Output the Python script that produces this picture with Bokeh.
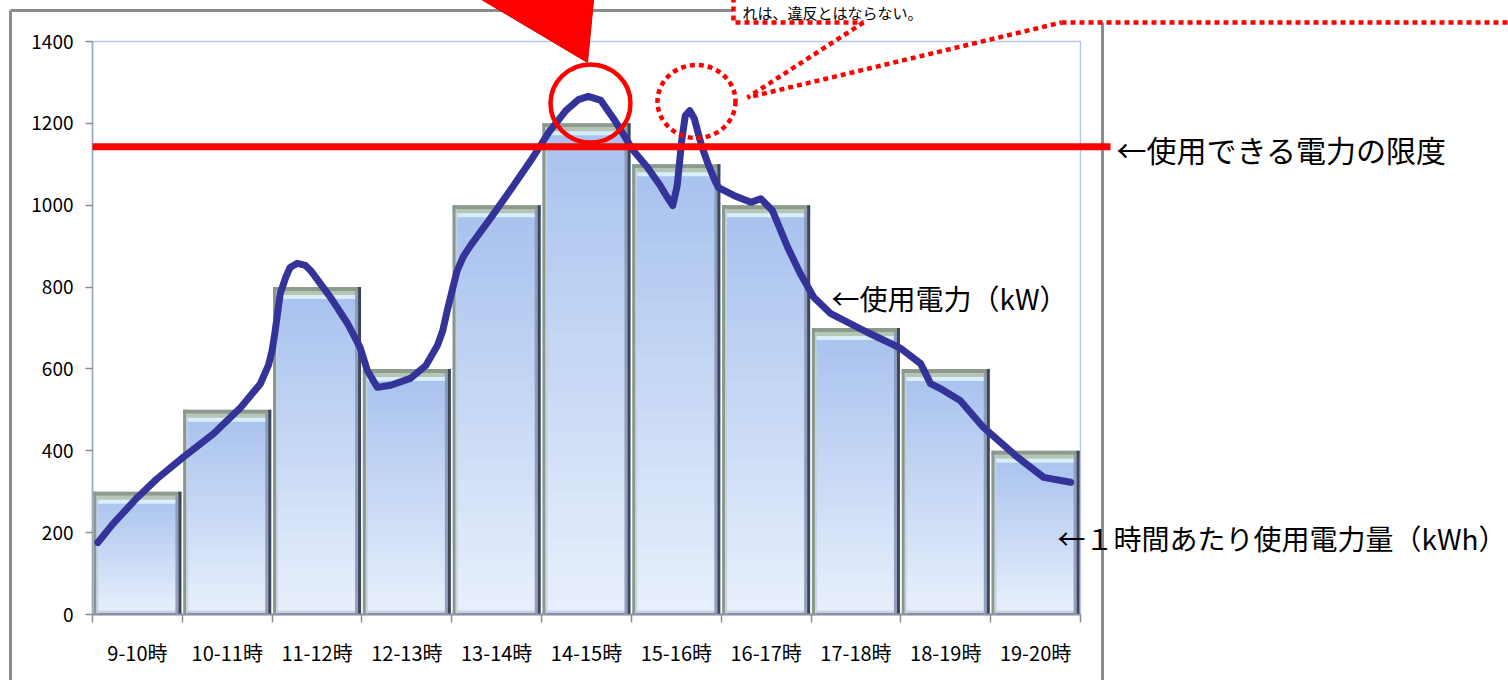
from bokeh.plotting import figure
from bokeh.models import Range1d, FixedTicker, CustomJSTickFormatter
from bokeh.core.properties import value
from bokeh.embed import file_html
from bokeh.resources import INLINE

# ---------------- data ----------------
categories = ["9-10時", "10-11時", "11-12時", "12-13時", "13-14時", "14-15時",
              "15-16時", "16-17時", "17-18時", "18-19時", "19-20時"]
energy_kwh = [300, 500, 800, 600, 1000, 1200, 1100, 1000, 700, 600, 400]

power_time_h = [9.06, 9.23, 9.50, 9.72, 10.01, 10.35, 10.65, 10.87, 10.96,
                11.00, 11.03, 11.06, 11.09, 11.15, 11.20, 11.28, 11.37, 11.43,
                11.65, 11.84, 11.98,
                12.06, 12.17, 12.32, 12.54, 12.71, 12.84, 12.90, 12.95,
                13.01, 13.06, 13.13, 13.21, 13.43, 13.65, 13.88,
                14.08, 14.27, 14.41, 14.52, 14.66, 14.80,
                15.02, 15.18, 15.32, 15.40, 15.46, 15.51, 15.56, 15.60, 15.65,
                15.70, 15.78, 15.86, 15.93, 15.97,
                16.14, 16.33, 16.44, 16.57, 16.74, 16.88,
                17.03, 17.22, 17.63,
                18.00, 18.22, 18.33, 18.44, 18.66, 18.92,
                19.30, 19.59, 19.89]
power_kw = [176, 222, 286, 332, 384, 442, 506, 564, 610,
            645, 687, 735, 784, 823, 848, 858, 853, 840,
            775, 711, 652,
            596, 555, 560, 577, 608, 657, 694, 743,
            797, 840, 875, 902, 968, 1036, 1109,
            1178, 1231, 1258, 1266, 1256, 1212,
            1134, 1092, 1048, 1019, 999, 1048, 1158, 1219, 1231,
            1212, 1146, 1097, 1060, 1043,
            1024, 1007, 1016, 987, 897, 833,
            775, 735, 689,
            650, 613, 564, 552, 523, 457,
            384, 335, 323]
start_hour = 9
limit_kw = 1143
y_ticks = [0, 200, 400, 600, 800, 1000, 1200, 1400]

label_limit = "←使用できる電力の限度"
label_power = "←使用電力（kW）"
label_energy = "←１時間あたり使用電力量（kWh）"
callout_text = "れは、違反とはならない。"

# ---------------- layout (picture pixels) ----------------
W, H = 1508, 680
FL, FR, FT, FB = 92, 1080, 41, 614          # plot frame
NCAT = len(categories)
YMAX = y_ticks[-1]


def dx(px):
    return (px - FL) / (FR - FL) * NCAT


def dy(py):
    return (FB - py) / (FB - FT) * YMAX


PX_Y = YMAX / (FB - FT)      # data units per vertical pixel
PX_X = NCAT / (FR - FL)      # data units per horizontal pixel

p = figure(width=W, height=H, output_backend="svg", toolbar_location=None,
           x_range=Range1d(0, NCAT), y_range=Range1d(0, YMAX),
           min_border_left=FL, min_border_right=W - FR,
           min_border_top=FT, min_border_bottom=H - FB,
           background_fill_color="white", border_fill_color="white")
p.xgrid.visible = False
p.ygrid.visible = False
p.outline_line_color = "#b9c8e6"
p.outline_line_width = 1.5

# ---- axes ----
xa = p.xaxis[0]
xa.ticker = FixedTicker(ticks=[i + 0.5 for i in range(NCAT)],
                        minor_ticks=list(range(NCAT + 1)))
xa.formatter = CustomJSTickFormatter(args=dict(labels=categories),
                                     code="return labels[Math.round(tick - 0.5)] ?? '';")
xa.major_tick_out = 0
xa.major_tick_in = 0
xa.minor_tick_out = 8
xa.minor_tick_in = 0
xa.minor_tick_line_color = "#8c8c8c"
xa.minor_tick_line_width = 1.5
xa.axis_line_color = "#8c93a6"
xa.axis_line_width = 2
xa.major_label_text_font = "Noto Sans CJK JP"
xa.major_label_text_font_size = "20px"
xa.major_label_text_color = "#000000"
xa.major_label_standoff = 15

ya = p.yaxis[0]
ya.ticker = FixedTicker(ticks=y_ticks, minor_ticks=[])
ya.major_tick_out = 7
ya.major_tick_in = 0
ya.minor_tick_out = 0
ya.minor_tick_in = 0
ya.major_tick_line_color = "#8c8c8c"
ya.major_tick_line_width = 1.5
ya.axis_line_color = "#9aa8c4"
ya.axis_line_width = 1.5
ya.major_label_text_font = "Noto Sans CJK JP"
ya.major_label_text_font_size = "19px"
ya.major_label_text_color = "#000000"
ya.major_label_standoff = 12

# ---- bars with vertical gradient + bevel ----
BW = 0.98
N = 40
top_rgb = (0xa6, 0xc1, 0xee)
bot_rgb = (0xe9, 0xf0, 0xfc)


def mix(a, b, t):
    return "#%02x%02x%02x" % tuple(int(round(a[j] + (b[j] - a[j]) * t)) for j in range(3))


L, R, B, T, C = [], [], [], [], []
for i, v in enumerate(energy_kwh):
    c = i + 0.5
    for k in range(N):
        L.append(c - BW / 2)
        R.append(c + BW / 2)
        B.append(v * k / N)
        T.append(min(v, v * (k + 1.6) / N))
        C.append(mix(bot_rgb, top_rgb, (k + 0.5) / N))
p.quad(left=L, right=R, bottom=B, top=T, fill_color=C, line_color=None)

centers = [i + 0.5 for i in range(NCAT)]
lefts = [c - BW / 2 for c in centers]
rights = [c + BW / 2 for c in centers]
zeros = [0] * NCAT


def band(x0s, x1s, y0s, y1s, color, alpha=1.0):
    p.quad(left=x0s, right=x1s, bottom=y0s, top=y1s, fill_color=color,
           fill_alpha=alpha, line_color=None)


# top bevel
band(lefts, rights, [v - 4 * PX_Y for v in energy_kwh], energy_kwh, "#8d9c8a")
band(lefts, rights, [v - 8 * PX_Y for v in energy_kwh], [v - 4 * PX_Y for v in energy_kwh], "#b7c6b4")
band([l + 4 * PX_X for l in lefts], [r - 5 * PX_X for r in rights],
     [v - 12 * PX_Y for v in energy_kwh], [v - 8 * PX_Y for v in energy_kwh], "#d8eefa")
# bottom bevel
band(lefts, rights, zeros, [4 * PX_Y] * NCAT, "#c9d1e2")
band(lefts, rights, zeros, [1.5 * PX_Y] * NCAT, "#7c8494")
# left bevel
band(lefts, [l + 3 * PX_X for l in lefts], zeros, energy_kwh, "#8a9889")
band([l + 3 * PX_X for l in lefts], [l + 5 * PX_X for l in lefts], zeros,
     [v - 4 * PX_Y for v in energy_kwh], "#c3d0dc", 0.8)
# right bevel
band([r - 6 * PX_X for r in rights], [r - 3 * PX_X for r in rights], zeros,
     [v - 4 * PX_Y for v in energy_kwh], "#8b97b8", 0.9)
band([r - 3 * PX_X for r in rights], rights, zeros, energy_kwh, "#3e4556")

# ---- power curve ----
p.line(x=[t - start_hour for t in power_time_h], y=power_kw, line_color="#333399",
       line_width=7, line_join="round", line_cap="round")

# ---- decorations outside the frame (overlay level) ----
GRAY = "#8c8c8c"
p.multi_line(xs=[[dx(10), dx(10)], [dx(10), dx(733)], [dx(1102), dx(1102)]],
             ys=[[dy(10), dy(700)], [dy(10), dy(10)], [dy(22), dy(700)]],
             line_color=GRAY, line_width=3, level="overlay")

# limit line
p.segment(x0=[0], x1=[dx(1110)], y0=[limit_kw], y1=[limit_kw], line_color="#ff0000",
          line_width=7, level="overlay")

# red triangle pointer
p.patch(x=[dx(449), dx(595), dx(587)], y=[dy(-20), dy(-20), dy(62)],
        fill_color="#ff0000", line_color="#e00000", line_width=1, level="overlay")

# circles
p.ellipse(x=[dx(590)], y=[dy(103)], width=80, height=78, width_units="screen",
          height_units="screen", fill_color=None, line_color="#ff0000",
          line_width=4.5, level="overlay")
p.ellipse(x=[dx(696)], y=[dy(101)], width=78, height=73, width_units="screen",
          height_units="screen", fill_color=None, line_color="#ff0000",
          line_width=4.5, line_dash="5 4", level="overlay")

# callout box
p.quad(left=[dx(733)], right=[dx(1530)], bottom=[dy(22)], top=[dy(-30)],
       fill_color="white", line_color=None, level="overlay")
p.multi_line(xs=[[dx(733), dx(733), dx(863)], [dx(863), dx(747), dx(1061)], [dx(1061), dx(1530)]],
             ys=[[dy(-30), dy(22), dy(22)], [dy(22), dy(97), dy(22)], [dy(22), dy(22)]],
             line_color="#ff0000", line_width=4.5, line_dash="5 4", level="overlay")

FONT = value("Noto Sans CJK JP")


def txt(px, py, s, size, baseline="middle"):
    p.text(x=[dx(px)], y=[dy(py)], text=[s], text_font=FONT, text_font_size=size,
           text_baseline=baseline, text_align="left", text_color="#000000",
           level="overlay")


txt(742, 12, callout_text, "15px")
txt(1116, 148, label_limit, "30px")
txt(831, 297, label_power, "28px")
txt(1057, 537, label_energy, "28px")

open("out.html", "w").write(file_html(p, INLINE))
